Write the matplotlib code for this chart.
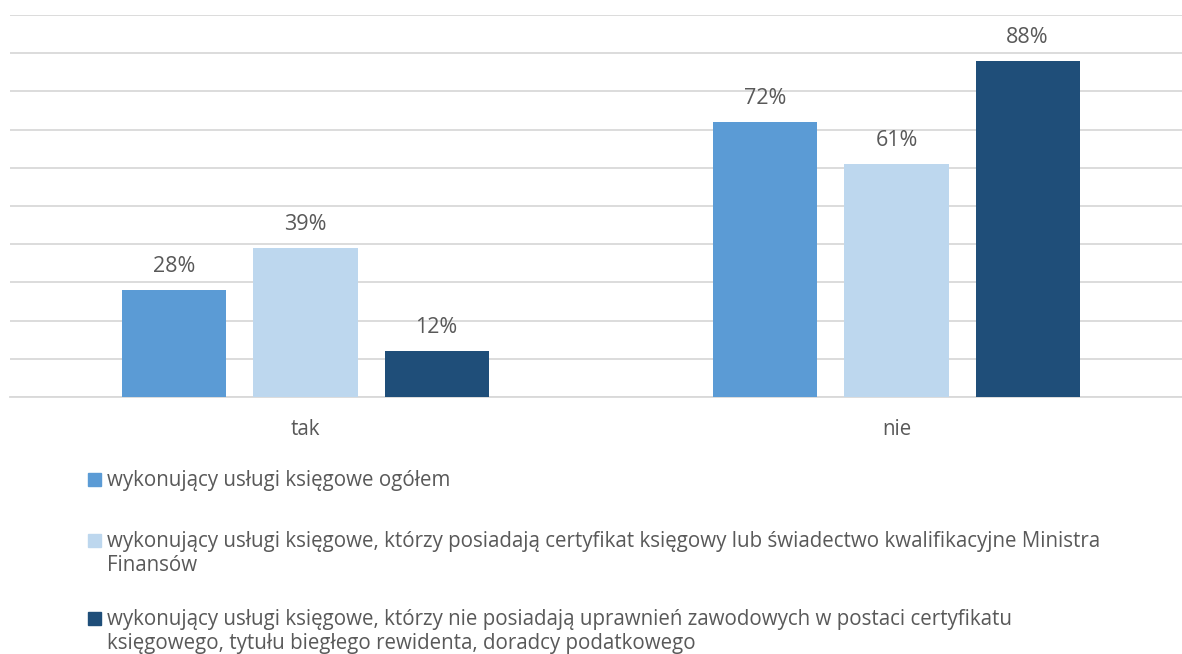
import matplotlib.pyplot as plt
from matplotlib.patches import Rectangle
import numpy as np

plt.rcParams['font.family'] = ['Open Sans', 'DejaVu Sans']

categories = ["tak", "nie"]
series_names = [
    "wykonujący usługi księgowe ogółem",
    "wykonujący usługi księgowe, którzy posiadają certyfikat księgowy lub świadectwo kwalifikacyjne Ministra\nFinansów",
    "wykonujący usługi księgowe, którzy nie posiadają uprawnień zawodowych w postaci certyfikatu\nksięgowego, tytułu biegłego rewidenta, doradcy podatkowego",
]
ogolem = [0.28, 0.72]
certyfikat = [0.39, 0.61]
bez_uprawnien = [0.12, 0.88]
colors = ["#5B9BD5", "#BDD7EE", "#1F4E79"]
text_color = "#595959"

W, H = 1182, 654
fig = plt.figure(figsize=(W / 100, H / 100), dpi=100)
ax = fig.add_axes([10 / W, 1 - 397 / H, 1182 / W, 382 / H])

x = np.arange(len(categories))
width = 0.176
step = 0.2217
for i, vals in enumerate([ogolem, certyfikat, bez_uprawnien]):
    bars = ax.bar(x + (i - 1) * step, vals, width, color=colors[i], zorder=3)
    for b, v in zip(bars, vals):
        ax.annotate(f"{v * 100:.0f}%", (b.get_x() + b.get_width() / 2, v),
                    xytext=(0, 17), textcoords="offset points",
                    ha="center", va="center", fontsize=15.5, color=text_color)

ax.set_xlim(-0.5, 1.5)
ax.set_ylim(0, 1.0)
ax.set_yticks(np.arange(0, 1.01, 0.1))
ax.yaxis.grid(True, color="#D9D9D9", linewidth=1.3, zorder=0)
ax.set_yticklabels([])
ax.tick_params(left=False, bottom=False)
ax.set_xticks(x)
ax.set_xticklabels(categories, fontsize=14.8, color=text_color)
ax.tick_params(axis="x", pad=12.5)
for s in ["top", "right", "left"]:
    ax.spines[s].set_visible(False)
ax.spines["bottom"].set_color("#D9D9D9")
ax.spines["bottom"].set_linewidth(1.3)

# legend drawn by hand to keep the row spacing of the original
rows = [479, 540, 618]
for name, col, y in zip(series_names, colors, rows):
    fig.patches.append(Rectangle((88 / W, 1 - (y + 7) / H), 13 / W, 13 / H,
                                 transform=fig.transFigure, color=col))
    fig.text(107 / W, 1 - (y - 9) / H, name, fontsize=14.8, color=text_color,
             va="top", ha="left", linespacing=1.2)

fig.savefig("out.png", dpi=100)
